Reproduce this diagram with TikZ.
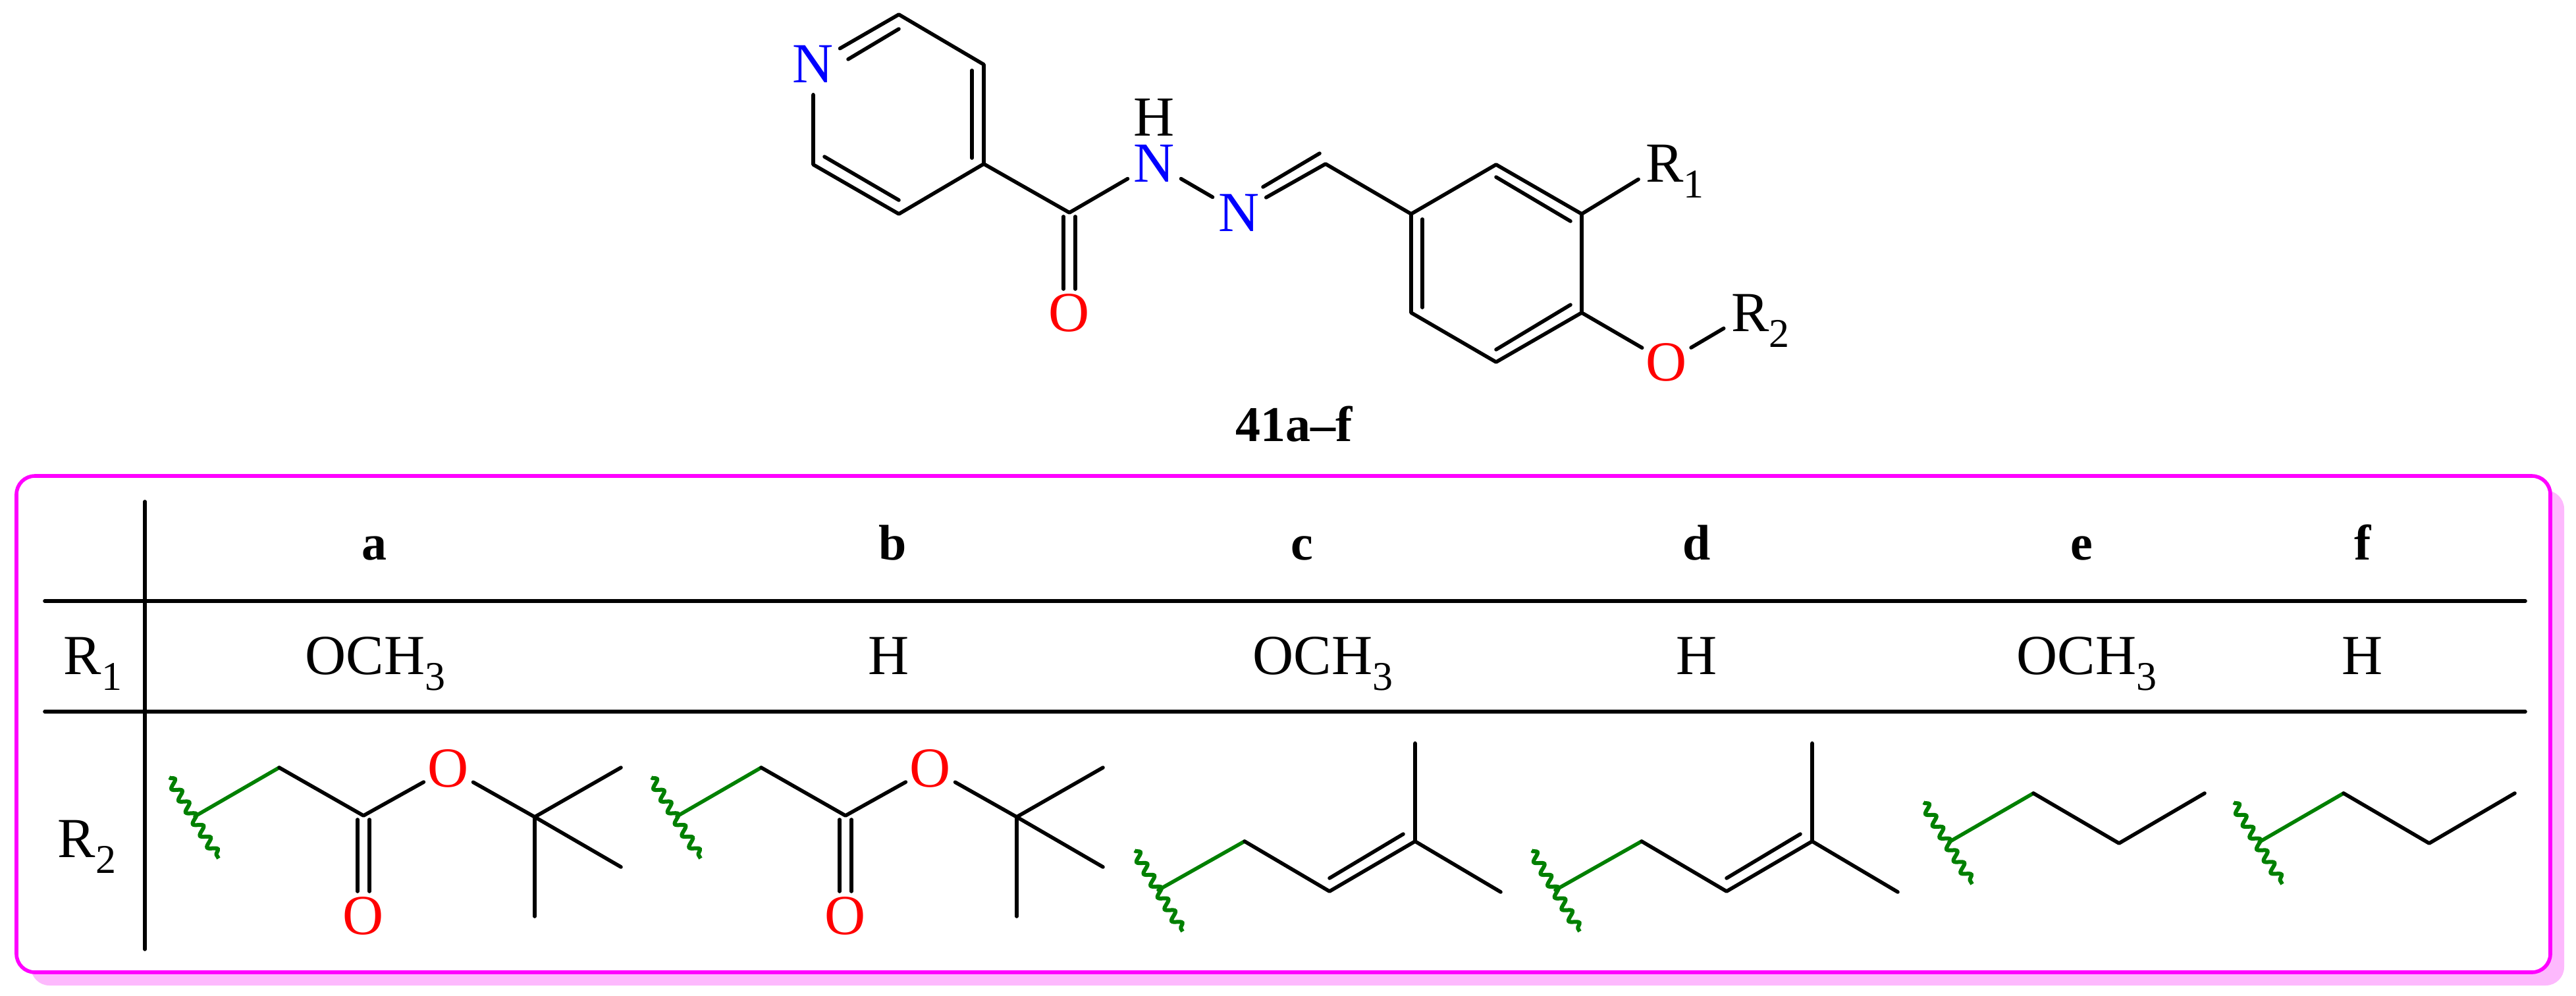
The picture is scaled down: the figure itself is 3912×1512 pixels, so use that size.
\documentclass[tikz,border=0pt]{standalone}
\usepackage{fontspec}
\setmainfont{Liberation Serif}
\usetikzlibrary{calc, decorations.pathmorphing}
\definecolor{framemagenta}{HTML}{FF00FF}
\definecolor{frameshadow}{HTML}{FDB9FD}
\definecolor{linkgreen}{HTML}{008000}
\newcommand{\chemsize}{\fontsize{21.5}{25}\selectfont}
\newcommand{\boldsize}{\fontsize{19}{23}\selectfont\bfseries}
\newcommand{\lowsub}[1]{\raisebox{-6pt}{\fontsize{15.5}{18}\selectfont #1}}
\newcommand{\atomsub}[1]{\smash{\rlap{\lowsub{#1}}}}

\begin{document}
\begin{tikzpicture}[
   x = 0.25pt, y = -0.25pt,
   bond/.style = {line width = 1.4pt, line cap = round, line join = round},
   rule/.style = {line width = 1.4pt, line cap = round},
   link/.style = {line width = 1.4pt, line cap = round, draw = linkgreen},
   wave/.style = {line width = 1.5pt, draw = linkgreen,
      decorate, decoration = {snake, segment length = 5.2pt, amplitude = 1.6pt}},
   atom/.style = {circle, inner sep = 0pt, font = \chemsize},
   blue atom/.style = {atom, text = blue, minimum size = 23pt},
   red atom/.style = {atom, text = red},
   group atom/.style = {atom, minimum size = 23pt},
   cell/.style = {inner sep = 0pt, font = \chemsize, anchor = base},
   head/.style = {inner sep = 0pt, font = \boldsize, anchor = base}]
   \useasboundingbox (0, 0) rectangle (3912, 1512);

   % main molecule
   \node[blue atom] (n1) at (1235, 97) {N};
   \coordinate (c2) at (1365, 22);
   \coordinate (c3) at (1494, 98);
   \coordinate (c4) at (1494, 249);
   \coordinate (c5) at (1365, 325);
   \coordinate (c6) at (1235, 250);
   \coordinate (co) at (1624, 323);
   \node[red atom] (o1) at (1624, 475) {O};
   \node[blue atom] (nh) at (1753, 248) {N};
   \node[atom] (hn) at (1753, 178) {H};
   \node[blue atom] (n2) at (1882, 323) {N};
   \coordinate (ch) at (2013, 249);
   \coordinate (r1) at (2143, 325);
   \coordinate (r2) at (2272, 250);
   \coordinate (r3) at (2402, 325);
   \coordinate (r4) at (2402, 475);
   \coordinate (r5) at (2272, 550);
   \coordinate (r6) at (2143, 475);
   \node[group atom] (sub1) at (2528, 248) {R\atomsub{1}};
   \node[red atom] (o2) at (2531, 550) {O};
   \node[group atom] (sub2) at (2658, 475) {R\atomsub{2}};
   \node[head] (title) at (1965, 670) {41a–f};

   \draw[bond] (n1) -- (c2) -- (c3) -- (c4) -- (c5) -- (c6) -- (n1);
   \draw[bond] (1288, 90) -- (1365, 44);
   \draw[bond] (1476, 107) -- (1476, 240);
   \draw[bond] (1252, 238) -- (1365, 304);
   \draw[bond] (c4) -- (co) -- (nh) -- (n2);
   \draw[bond] (1615, 329) -- (1615, 439);
   \draw[bond] (1633, 329) -- (1633, 439);
   \draw[bond] (n2) -- (ch) -- (r1) -- (r2) -- (r3) -- (r4) -- (r5) -- (r6) -- (r1);
   \draw[bond] (1918, 284) -- (2004, 233);
   \draw[bond] (2272, 269) -- (2385, 336);
   \draw[bond] (2160, 333) -- (2160, 467);
   \draw[bond] (2272, 531) -- (2385, 463);
   \draw[bond] (r3) -- (sub1);
   \draw[bond] (r4) -- (o2) -- (sub2);

   % table frame and rules
   \fill[frameshadow, rounded corners = 7pt] (47, 745) rectangle (3894, 1497);
   \draw[framemagenta, line width = 1.4pt, rounded corners = 7pt, fill = white] (25, 723) rectangle (3873, 1477);
   \draw[rule] (220, 762) -- (220, 1442);
   \draw[rule] (68, 913) -- (3835, 913);
   \draw[rule] (68, 1081) -- (3835, 1081);

   % table text
   \node[head] (ha) at (568, 850) {a};
   \node[head] (hb) at (1356, 850) {b};
   \node[head] (hc) at (1977, 850) {c};
   \node[head] (hd) at (2577, 850) {d};
   \node[head] (he) at (3161, 850) {e};
   \node[head] (hf) at (3588, 850) {f};
   \node[cell] (lr1) at (141, 1024) {R\lowsub{1}};
   \node[cell] (lr2) at (132, 1302) {R\lowsub{2}};
   \node[cell] (va) at (570, 1024) {OCH\lowsub{3}};
   \node[cell] (vb) at (1350, 1024) {H};
   \node[cell] (vc) at (2009, 1024) {OCH\lowsub{3}};
   \node[cell] (vd) at (2577, 1024) {H};
   \node[cell] (ve) at (3169, 1024) {OCH\lowsub{3}};
   \node[cell] (vf) at (3588, 1024) {H};

   % tert-butyl esters
   \foreach \nm/\dx in {a/0, b/732} {
      \begin{scope}[xshift = \dx*0.25pt]
         \coordinate (\nm j) at (296, 1240);
         \coordinate (\nm w1) at (257, 1181);
         \coordinate (\nm w2) at (332, 1304);
         \coordinate (\nm ch) at (424, 1166);
         \coordinate (\nm c) at (552, 1239);
         \node[red atom] (\nm o1) at (681, 1167) {O};
         \node[red atom] (\nm o2) at (552, 1391) {O};
         \coordinate (\nm q) at (812, 1241);
         \coordinate (\nm m1) at (943, 1166);
         \coordinate (\nm m2) at (943, 1317);
         \coordinate (\nm m3) at (812, 1392);
         \draw[wave] (\nm w1) -- (\nm w2);
         \draw[link] (\nm j) -- (\nm ch);
         \draw[bond] (\nm ch) -- (\nm c) -- (\nm o1) -- (\nm q) -- (\nm m1);
         \draw[bond] (\nm q) -- (\nm m2);
         \draw[bond] (\nm q) -- (\nm m3);
         \draw[bond] (543, 1245) -- (543, 1354);
         \draw[bond] (561, 1245) -- (561, 1354);
      \end{scope}
   }

   % prenyl groups
   \foreach \nm/\dx in {c/0, d/603} {
      \begin{scope}[xshift = \dx*0.25pt]
         \coordinate (\nm j) at (1759, 1352);
         \coordinate (\nm w1) at (1723, 1292);
         \coordinate (\nm w2) at (1796, 1415);
         \coordinate (\nm ch) at (1890, 1278);
         \coordinate (\nm cv) at (2019, 1354);
         \coordinate (\nm q) at (2149, 1278);
         \coordinate (\nm m1) at (2149, 1129);
         \coordinate (\nm m2) at (2279, 1355);
         \draw[wave] (\nm w1) -- (\nm w2);
         \draw[link] (\nm j) -- (\nm ch);
         \draw[bond] (\nm ch) -- (\nm cv) -- (\nm q) -- (\nm m1);
         \draw[bond] (\nm q) -- (\nm m2);
         \draw[bond] (2019, 1334) -- (2131, 1267);
      \end{scope}
   }

   % propyl groups
   \foreach \nm/\dx in {e/0, f/471} {
      \begin{scope}[xshift = \dx*0.25pt]
         \coordinate (\nm j) at (2960, 1279);
         \coordinate (\nm w1) at (2921, 1219);
         \coordinate (\nm w2) at (2995, 1343);
         \coordinate (\nm ch) at (3088, 1205);
         \coordinate (\nm cv) at (3218, 1281);
         \coordinate (\nm m1) at (3348, 1205);
         \draw[wave] (\nm w1) -- (\nm w2);
         \draw[link] (\nm j) -- (\nm ch);
         \draw[bond] (\nm ch) -- (\nm cv) -- (\nm m1);
      \end{scope}
   }
\end{tikzpicture}
\end{document}
